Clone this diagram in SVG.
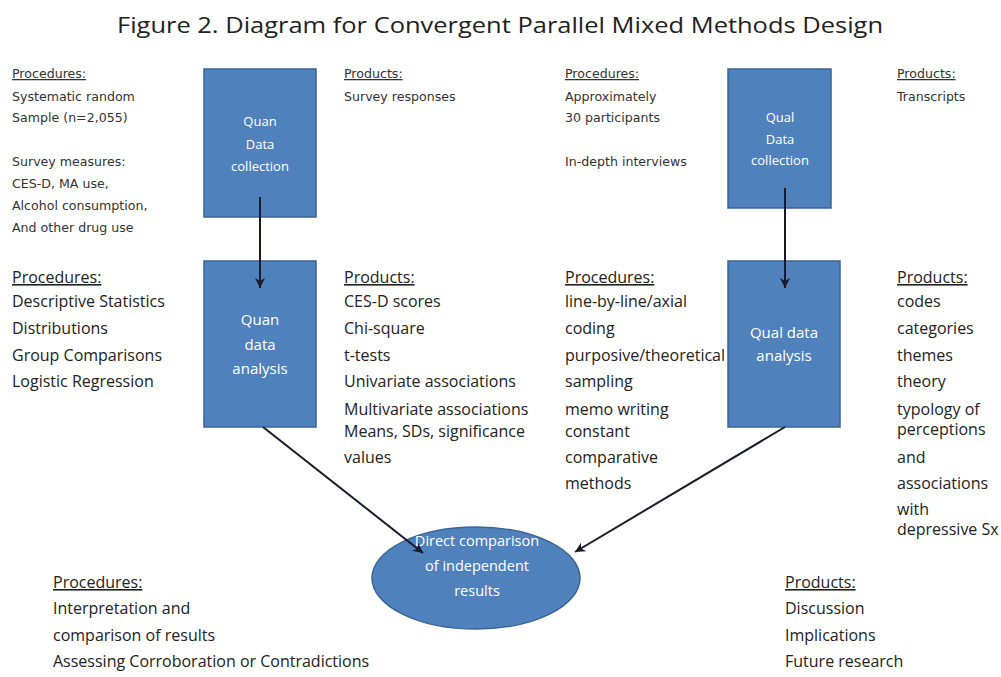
<svg xmlns="http://www.w3.org/2000/svg" width="1001" height="677" viewBox="0 0 1001 677">
<style>
.title{font-family:"Open Sans","Liberation Sans",sans-serif;font-size:22px;fill:#222}
.sm{font-family:"DejaVu Sans",sans-serif;font-size:12.6px;fill:#333}
.md{font-family:"Open Sans","Liberation Sans",sans-serif;font-size:16px;fill:#222}
.hd{text-decoration:underline}
.box{fill:#4F81BD;stroke:#3A6494;stroke-width:1.5}
.wt{font-family:"Open Sans","Liberation Sans",sans-serif;fill:#fff;text-anchor:middle}
.conn{stroke:#1a1a2e;stroke-width:2;fill:none;marker-end:url(#arr)}
</style>
<defs>
<marker id="arr" markerWidth="12" markerHeight="12" refX="10" refY="6" orient="auto" markerUnits="userSpaceOnUse">
<path d="M0,1 L10,6 L0,11 L3,6 Z" fill="#1a1a2e"/>
</marker>
</defs>
<rect width="1001" height="677" fill="#fff"/>
<text class="title" x="500" y="33" text-anchor="middle" textLength="766" lengthAdjust="spacingAndGlyphs">Figure 2. Diagram for Convergent Parallel Mixed Methods Design</text>

<g id="quan-collection-procedures">
<text class="sm hd" x="12" y="78">Procedures:</text>
<text class="sm" x="12" y="101">Systematic random</text>
<text class="sm" x="12" y="122">Sample (n=2,055)</text>
<text class="sm" x="12" y="166">Survey measures:</text>
<text class="sm" x="12" y="188">CES-D, MA use,</text>
<text class="sm" x="12" y="210">Alcohol consumption,</text>
<text class="sm" x="12" y="232">And other drug use</text>
</g>
<g id="quan-collection-products">
<text class="sm hd" x="344" y="78">Products:</text>
<text class="sm" x="344" y="101">Survey responses</text>
</g>
<g id="qual-collection-procedures">
<text class="sm hd" x="565" y="78">Procedures:</text>
<text class="sm" x="565" y="101">Approximately</text>
<text class="sm" x="565" y="122">30 participants</text>
<text class="sm" x="565" y="166">In-depth interviews</text>
</g>
<g id="qual-collection-products">
<text class="sm hd" x="897" y="78">Products:</text>
<text class="sm" x="897" y="101">Transcripts</text>
</g>

<g id="quan-analysis-procedures">
<text class="md hd" x="12" y="283">Procedures:</text>
<text class="md" x="12" y="307">Descriptive Statistics</text>
<text class="md" x="12" y="334">Distributions</text>
<text class="md" x="12" y="361">Group Comparisons</text>
<text class="md" x="12" y="387">Logistic Regression</text>
</g>
<g id="quan-analysis-products">
<text class="md hd" x="344" y="283">Products:</text>
<text class="md" x="344" y="307">CES-D scores</text>
<text class="md" x="344" y="334">Chi-square</text>
<text class="md" x="344" y="361">t-tests</text>
<text class="md" x="344" y="387">Univariate associations</text>
<text class="md" x="344" y="415">Multivariate associations</text>
<text class="md" x="344" y="437">Means, SDs, significance</text>
<text class="md" x="344" y="463">values</text>
</g>
<g id="qual-analysis-procedures">
<text class="md hd" x="565" y="283">Procedures:</text>
<text class="md" x="565" y="307">line-by-line/axial</text>
<text class="md" x="565" y="334">coding</text>
<text class="md" x="565" y="361">purposive/theoretical</text>
<text class="md" x="565" y="387">sampling</text>
<text class="md" x="565" y="415">memo writing</text>
<text class="md" x="565" y="437">constant</text>
<text class="md" x="565" y="463">comparative</text>
<text class="md" x="565" y="489">methods</text>
</g>
<g id="qual-analysis-products">
<text class="md hd" x="897" y="283">Products:</text>
<text class="md" x="897" y="307">codes</text>
<text class="md" x="897" y="334">categories</text>
<text class="md" x="897" y="361">themes</text>
<text class="md" x="897" y="387">theory</text>
<text class="md" x="897" y="415">typology of</text>
<text class="md" x="897" y="435">perceptions</text>
<text class="md" x="897" y="463">and</text>
<text class="md" x="897" y="489">associations</text>
<text class="md" x="897" y="515">with</text>
<text class="md" x="897" y="535">depressive Sx</text>
</g>
<g id="comparison-procedures">
<text class="md hd" x="53" y="588">Procedures:</text>
<text class="md" x="53" y="614">Interpretation and</text>
<text class="md" x="53" y="641">comparison of results</text>
<text class="md" x="53" y="667">Assessing Corroboration or Contradictions</text>
</g>
<g id="comparison-products">
<text class="md hd" x="785" y="588">Products:</text>
<text class="md" x="785" y="614">Discussion</text>
<text class="md" x="785" y="641">Implications</text>
<text class="md" x="785" y="667">Future research</text>
</g>

<g id="quan-collection">
<rect class="box" x="204" y="69" width="112" height="148"/>
<text class="wt" font-size="13" x="260" y="126">Quan</text>
<text class="wt" font-size="13" x="260" y="149">Data</text>
<text class="wt" font-size="13" x="260" y="171">collection</text>
</g>
<g id="qual-collection">
<rect class="box" x="728" y="69" width="103" height="139"/>
<text class="wt" font-size="13" x="780" y="122">Qual</text>
<text class="wt" font-size="13" x="780" y="144">Data</text>
<text class="wt" font-size="13" x="780" y="165">collection</text>
</g>
<g id="quan-analysis">
<rect class="box" x="204" y="261" width="112" height="166"/>
<text class="wt" font-size="15" x="260" y="325">Quan</text>
<text class="wt" font-size="15" x="260" y="350">data</text>
<text class="wt" font-size="15" x="260" y="374">analysis</text>
</g>
<g id="qual-analysis">
<rect class="box" x="728" y="261" width="112" height="166"/>
<text class="wt" font-size="15" x="784" y="338">Qual data</text>
<text class="wt" font-size="15" x="784" y="361">analysis</text>
</g>
<g id="comparison">
<ellipse class="box" cx="476" cy="578" rx="104" ry="51"/>
<text class="wt" font-size="14.5" x="477" y="546">Direct comparison</text>
<text class="wt" font-size="14.5" x="477" y="571">of independent</text>
<text class="wt" font-size="14.5" x="477" y="596">results</text>
</g>

<g id="connectors">
<line class="conn" x1="260" y1="197" x2="260" y2="288"/>
<line class="conn" x1="785" y1="188" x2="785" y2="288"/>
<line class="conn" x1="263" y1="427" x2="423" y2="553"/>
<line class="conn" x1="785" y1="427" x2="575" y2="552"/>
</g>
</svg>
